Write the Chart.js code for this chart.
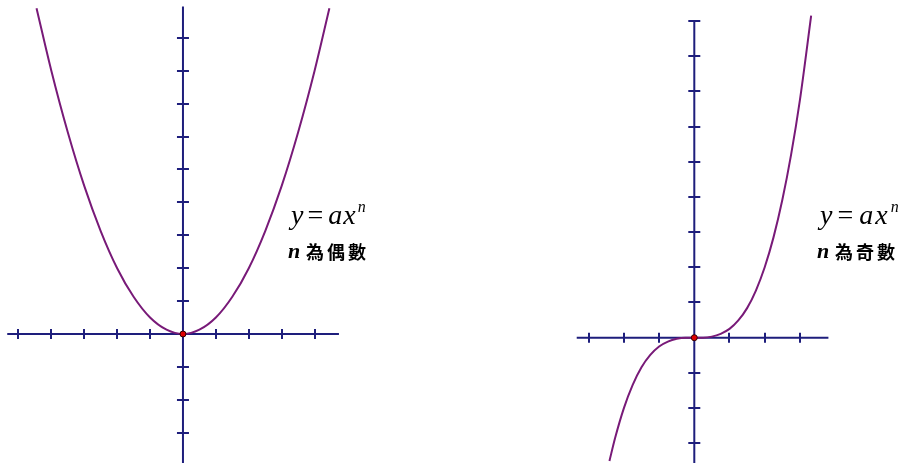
<!DOCTYPE html>
<html>
<head>
<meta charset="utf-8">
<script src="https://cdn.jsdelivr.net/npm/chart.js@4.4.1/dist/chart.umd.min.js"></script>
<style>
  body { margin: 0; background: #fff; }
  #wrap { position: relative; width: 911px; height: 463px; overflow: hidden; background: #fff; }
  #wrap canvas { position: absolute; top: 0; }
  .eq { position: absolute; font-family: "Liberation Serif", "Times New Roman", serif; font-style: italic; font-size: 28px; line-height: 1; color: #000; white-space: nowrap; letter-spacing: 1px; }
  .eq .op { font-style: normal; margin: 0 4px 0 3px; }
  .eq .sup { font-size: 16px; position: relative; top: -12px; margin-left: 1px; }
  .nn { position: absolute; font-family: "Liberation Serif", serif; font-style: italic; font-weight: bold; font-size: 22px; line-height: 1; color: #000; }
  .zh { position: absolute; font-family: "Noto Sans CJK TC", sans-serif; font-weight: bold; font-size: 18px; line-height: 1; letter-spacing: 3px; color: #000; white-space: nowrap; }
</style>
</head>
<body>
<div id="wrap">
  <canvas id="evenChart" width="360" height="463" style="left:0"></canvas>
  <canvas id="oddChart" width="351" height="463" style="left:560px"></canvas>

  <div class="eq" style="left:291px;top:201px">y<span class="op">=</span>ax<span class="sup">n</span></div>
  <div class="nn" style="left:288px;top:240px">n</div>
  <div class="zh" style="left:306px;top:242px">為偶數</div>

  <div class="eq" style="left:820px;top:201px;letter-spacing:2px">y<span class="op">=</span>ax<span class="sup">n</span></div>
  <div class="nn" style="left:817px;top:240px">n</div>
  <div class="zh" style="left:835px;top:242px">為奇數</div>
</div>
<script>
// y = 0.5 x^2  (n even)
const evenX = [-4.45, -4, -3.5, -3, -2.5, -2, -1.5, -1, -0.5, 0, 0.5, 1, 1.5, 2, 2.5, 3, 3.5, 4, 4.45];
const evenY = [9.9, 8, 6.13, 4.5, 3.13, 2, 1.13, 0.5, 0.13, 0, 0.13, 0.5, 1.13, 2, 3.13, 4.5, 6.13, 8, 9.9];

// y = 0.25 x^3  (n odd)
const oddX = [-2.41, -2.25, -2, -1.75, -1.5, -1.25, -1, -0.75, -0.5, -0.25, 0, 0.25, 0.5, 0.75, 1, 1.25, 1.5, 1.75, 2, 2.25, 2.5, 2.75, 3, 3.32];
const oddY = [-3.5, -2.85, -2, -1.34, -0.84, -0.49, -0.25, -0.11, -0.03, 0, 0, 0, 0.03, 0.11, 0.25, 0.49, 0.84, 1.34, 2, 2.85, 3.91, 5.2, 6.75, 9.15];

// tick marks on each axis
const evenXTicks = [-5, -4, -3, -2, -1, 1, 2, 3, 4];
const evenYTicks = [-3, -2, -1, 1, 2, 3, 4, 5, 6, 7, 8, 9];
const oddXTicks = [-3, -2, -1, 1, 2, 3];
const oddYTicks = [-3, -2, -1, 1, 2, 3, 4, 5, 6, 7, 8, 9];

const AXIS = '#1e1e7c';
const CURVE = '#781a78';

// draws the two axes through the origin with ticks crossing them
const crossAxes = {
  id: 'crossAxes',
  beforeDatasetsDraw(chart, args, o) {
    const { ctx, scales: { x, y } } = chart;
    const x0 = x.getPixelForValue(0), y0 = y.getPixelForValue(0);
    ctx.save();
    ctx.strokeStyle = AXIS;
    ctx.lineWidth = 2;
    ctx.beginPath();
    ctx.moveTo(x.getPixelForValue(o.xSpan[0]), y0);
    ctx.lineTo(x.getPixelForValue(o.xSpan[1]), y0);
    ctx.moveTo(x0, y.getPixelForValue(o.ySpan[0]));
    ctx.lineTo(x0, y.getPixelForValue(o.ySpan[1]));
    o.xTicks.forEach(v => {
      const p = Math.round(x.getPixelForValue(v));
      ctx.moveTo(p, y0 - 5);
      ctx.lineTo(p, y0 + 5);
    });
    o.yTicks.forEach(v => {
      const p = Math.round(y.getPixelForValue(v));
      ctx.moveTo(x0 - 6, p);
      ctx.lineTo(x0 + 6, p);
    });
    ctx.stroke();
    ctx.restore();
  }
};

function makeChart(id, xs, ys, range, axes) {
  const pts = xs.map((v, i) => ({ x: v, y: ys[i] }));
  return new Chart(document.getElementById(id), {
    type: 'scatter',
    data: {
      datasets: [
        {
          data: [{ x: 0, y: 0 }],
          pointRadius: 3,
          pointBackgroundColor: '#e00000',
          pointBorderColor: '#300000',
          pointBorderWidth: 1
        },
        {
          data: pts,
          showLine: true,
          pointRadius: 0,
          borderColor: CURVE,
          borderWidth: 2,
          cubicInterpolationMode: 'monotone'
        }
      ]
    },
    options: {
      responsive: false,
      animation: false,
      devicePixelRatio: 1,
      layout: { padding: 0, autoPadding: false },
      plugins: {
        legend: { display: false },
        tooltip: { enabled: false },
        crossAxes: axes
      },
      scales: {
        x: { type: 'linear', min: range[0], max: range[1], display: false },
        y: { type: 'linear', min: range[2], max: range[3], display: false }
      }
    },
    plugins: [crossAxes]
  });
}

makeChart('evenChart', evenX, evenY, [-5.56, 5.38, -3.92, 10.15],
  { xSpan: [-5.34, 4.74], ySpan: [-3.92, 9.95], xTicks: evenXTicks, yTicks: evenYTicks });

makeChart('oddChart', oddX, oddY, [-3.815, 6.156, -3.56, 9.594],
  { xSpan: [-3.34, 3.81], ySpan: [-3.56, 9], xTicks: oddXTicks, yTicks: oddYTicks });
</script>
</body>
</html>
